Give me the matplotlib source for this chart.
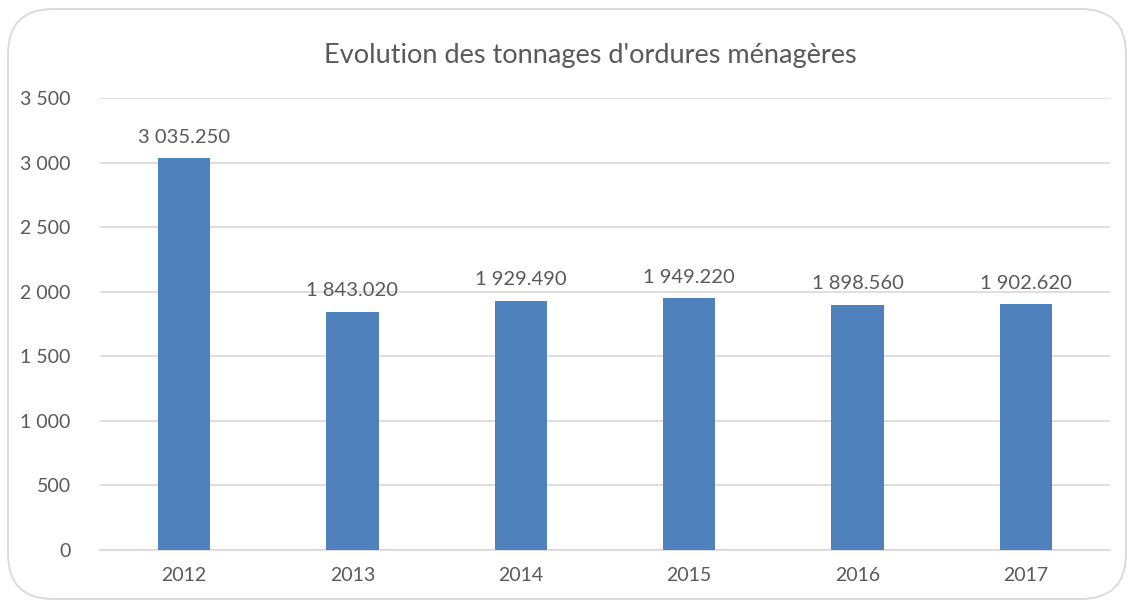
import matplotlib
matplotlib.use("Agg")
import matplotlib.pyplot as plt
from matplotlib.patches import FancyBboxPatch
from matplotlib.ticker import FuncFormatter

years = ["2012", "2013", "2014", "2015", "2016", "2017"]
tonnages = [3035.250, 1843.020, 1929.490, 1949.220, 1898.560, 1902.620]
title = "Evolution des tonnages d'ordures ménagères"

plt.rcParams['font.family'] = ['Lato', 'DejaVu Sans']
txt = '#595959'
grid = '#D9D9D9'
bar_color = '#4F81BD'

fig = plt.figure(figsize=(11.31, 6.05), dpi=100)
fig.patch.set_facecolor('white')
border = FancyBboxPatch((8/1131, 6/605), 1118/1131, 590/605,
                        boxstyle="round,pad=0,rounding_size=0.04",
                        transform=fig.transFigure, facecolor='none',
                        edgecolor='#D9D9D9', linewidth=1.3,
                        mutation_aspect=1131/605, zorder=-1)
fig.patches.append(border)

ax = fig.add_axes([100/1131, 1-550/605, 1010/1131, 452/605])
ax.set_facecolor('none')
x = range(len(years))
bars = ax.bar(x, tonnages, width=0.31, color=bar_color, zorder=3)
ax.set_xlim(-0.5, len(years)-0.5)
ax.set_ylim(0, 3500)
ax.set_yticks(range(0, 3501, 500))
ax.yaxis.set_major_formatter(FuncFormatter(lambda v, p: f"{int(v):,}".replace(",", " ")))
ax.set_xticks(list(x))
ax.set_xticklabels(years)
ax.grid(axis='y', color=grid, linewidth=1.2, zorder=0)
for s in ['top', 'right', 'left']:
    ax.spines[s].set_visible(False)
ax.spines['bottom'].set_color(grid)
ax.spines['bottom'].set_linewidth(1.2)
ax.tick_params(axis='both', length=0, labelsize=14, colors=txt)
ax.tick_params(axis='y', pad=21)
ax.tick_params(axis='x', pad=12)

for xi, v in zip(x, tonnages):
    lab = f"{v:,.3f}".replace(",", " ")
    ax.annotate(lab, (xi, v), xytext=(0, 9), textcoords='offset points',
                ha='center', va='bottom', fontsize=14.5, color=txt)

fig.text(590/1131, 1-55/605, title, ha='center', va='center', fontsize=19.5, color=txt)

fig.savefig("out.png", dpi=100)
